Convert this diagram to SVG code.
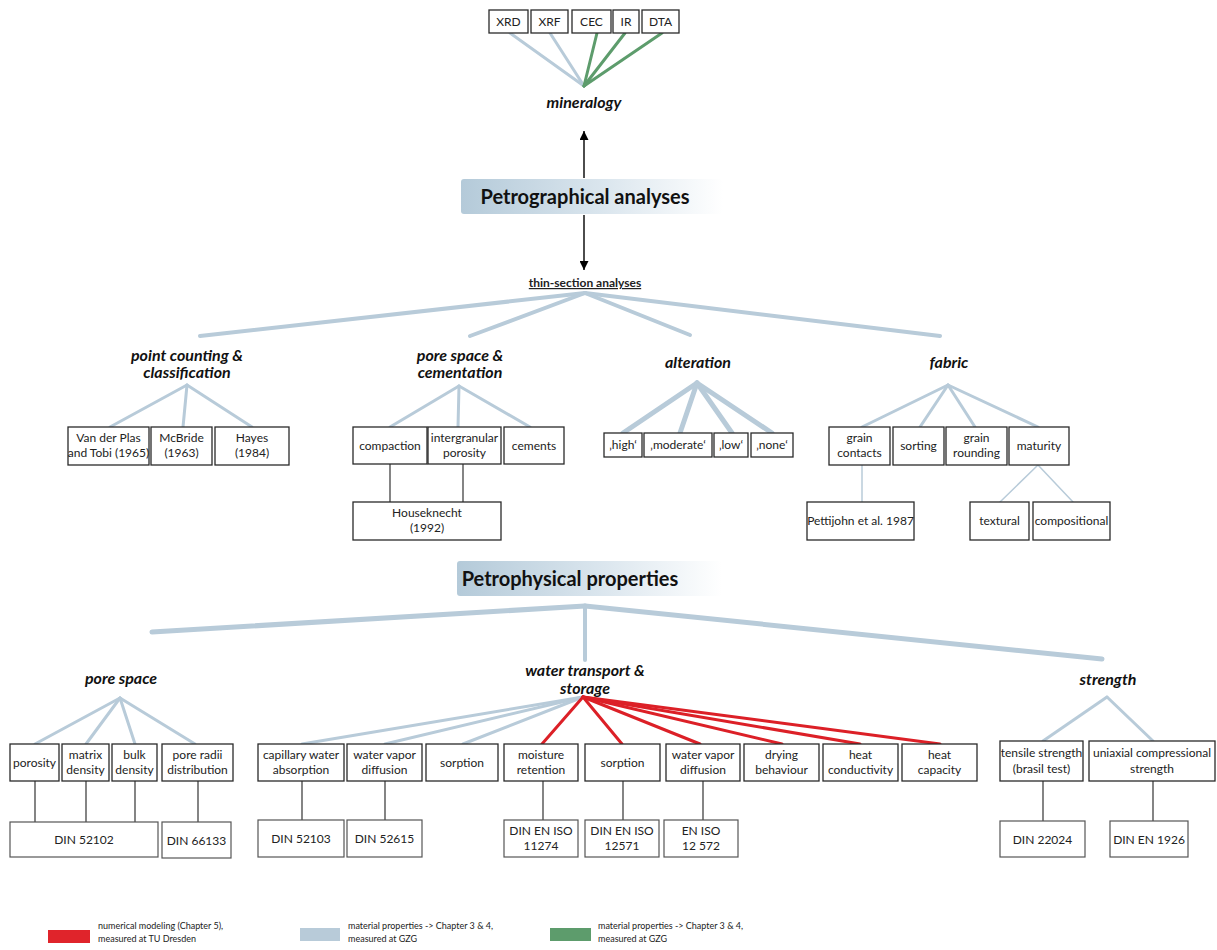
<svg xmlns="http://www.w3.org/2000/svg" width="1217" height="950" viewBox="0 0 1217 950">
<defs>
<linearGradient id="hdr" x1="0" y1="0" x2="1" y2="0">
<stop offset="0" stop-color="#b4cad9"/>
<stop offset="0.55" stop-color="#dbe6ee"/>
<stop offset="1" stop-color="#ffffff"/>
</linearGradient>
<marker id="ah" viewBox="0 0 10 10" refX="10" refY="5" markerWidth="9" markerHeight="9" markerUnits="userSpaceOnUse" orient="auto">
<path d="M0,0 L10,5 L0,10 z" fill="#000"/>
</marker>
<style>
.box{fill:#fff;stroke:#2a2a2a;stroke-width:1.3}
.din{fill:#fff;stroke:#555;stroke-width:1.2}
.t{font-family:Lato,"Open Sans",sans-serif;font-size:12px;fill:#222;text-anchor:middle}
.h{font-family:Lato,"Open Sans",sans-serif;font-size:16px;font-weight:bold;font-style:italic;fill:#111;text-anchor:middle}
.big{font-family:Lato,"Open Sans",sans-serif;font-size:20px;font-weight:bold;fill:#111;text-anchor:middle}
.lg{font-family:Lato,"Open Sans",sans-serif;font-size:9px;fill:#222}
.b{stroke:#b8cbd9;fill:none;stroke-linecap:round}
.r{stroke:#dc2027;fill:none;stroke-width:3;stroke-linecap:round}
.g{stroke:#5d9c6c;fill:none;stroke-width:3;stroke-linecap:round}
.k{stroke:#333;stroke-width:1.2;fill:none}
</style>
</defs>
<rect width="1217" height="950" fill="#fff"/>

<g id="connectors">
<!-- mineralogy -->
<line class="b" stroke-width="3" x1="510" y1="33" x2="584" y2="86"/>
<line class="b" stroke-width="3" x1="550" y1="33" x2="584" y2="86"/>
<line class="g" x1="597" y1="33" x2="584" y2="86"/>
<line class="g" x1="625" y1="33" x2="584" y2="86"/>
<line class="g" x1="662" y1="33" x2="584" y2="86"/>
<!-- arrows -->
<line x1="584" y1="178" x2="584" y2="131" stroke="#000" stroke-width="1.4" marker-end="url(#ah)"/>
<line x1="584" y1="215" x2="584" y2="270" stroke="#000" stroke-width="1.4" marker-end="url(#ah)"/>
<!-- thin-section -->
<line class="b" stroke-width="4" x1="585" y1="293" x2="200" y2="336"/>
<line class="b" stroke-width="4" x1="585" y1="293" x2="470" y2="336"/>
<line class="b" stroke-width="4" x1="585" y1="293" x2="690" y2="335"/>
<line class="b" stroke-width="4" x1="585" y1="293" x2="940" y2="336"/>
<!-- point counting -->
<line class="b" stroke-width="3" x1="187" y1="385" x2="110" y2="427"/>
<line class="b" stroke-width="3" x1="187" y1="385" x2="183" y2="427"/>
<line class="b" stroke-width="3" x1="187" y1="385" x2="252" y2="427"/>
<!-- pore space & cementation -->
<line class="b" stroke-width="3" x1="459" y1="386" x2="390" y2="427"/>
<line class="b" stroke-width="3" x1="459" y1="386" x2="458" y2="427"/>
<line class="b" stroke-width="3" x1="459" y1="386" x2="530" y2="427"/>
<line class="k" x1="390" y1="464" x2="390" y2="502"/>
<line class="k" x1="463" y1="464" x2="463" y2="502"/>
<!-- alteration -->
<line class="b" stroke-width="5" x1="697" y1="383" x2="623" y2="433"/>
<line class="b" stroke-width="5" x1="697" y1="383" x2="680" y2="433"/>
<line class="b" stroke-width="5" x1="697" y1="383" x2="732" y2="433"/>
<line class="b" stroke-width="5" x1="697" y1="383" x2="772" y2="433"/>
<!-- fabric -->
<line class="b" stroke-width="3" x1="948" y1="385" x2="862" y2="427"/>
<line class="b" stroke-width="3" x1="948" y1="385" x2="920" y2="427"/>
<line class="b" stroke-width="3" x1="948" y1="385" x2="975" y2="427"/>
<line class="b" stroke-width="3" x1="948" y1="385" x2="1038" y2="427"/>
<line class="b" stroke-width="1.5" x1="862" y1="465" x2="862" y2="502"/>
<line class="b" stroke-width="1.5" x1="1038" y1="465" x2="1000" y2="502"/>
<line class="b" stroke-width="1.5" x1="1038" y1="465" x2="1073" y2="502"/>
<!-- petrophysical -->
<line class="b" stroke-width="5" x1="585" y1="606" x2="152" y2="632"/>
<line class="b" stroke-width="5" x1="585" y1="606" x2="1102" y2="659"/>
<line class="b" stroke-width="4" x1="585" y1="606" x2="585" y2="660"/>
<!-- pore space -->
<line class="b" stroke-width="3" x1="120" y1="698" x2="35" y2="744"/>
<line class="b" stroke-width="3" x1="120" y1="698" x2="86" y2="744"/>
<line class="b" stroke-width="3" x1="120" y1="698" x2="135" y2="744"/>
<line class="b" stroke-width="3" x1="120" y1="698" x2="195" y2="744"/>
<line class="k" x1="35" y1="781" x2="35" y2="822"/>
<line class="k" x1="86" y1="781" x2="86" y2="822"/>
<line class="k" x1="135" y1="781" x2="135" y2="822"/>
<line class="k" x1="198" y1="781" x2="198" y2="822"/>
<!-- water transport -->
<line class="b" stroke-width="3" x1="583" y1="697" x2="302" y2="744"/>
<line class="b" stroke-width="3" x1="583" y1="697" x2="385" y2="744"/>
<line class="b" stroke-width="3" x1="583" y1="697" x2="463" y2="744"/>
<line class="r" x1="583" y1="697" x2="542" y2="744"/>
<line class="r" x1="583" y1="697" x2="622" y2="744"/>
<line class="r" x1="583" y1="697" x2="700" y2="744"/>
<line class="r" x1="583" y1="697" x2="782" y2="744"/>
<line class="r" x1="583" y1="697" x2="860" y2="744"/>
<line class="r" x1="583" y1="697" x2="940" y2="744"/>
<line class="k" x1="302" y1="781" x2="302" y2="820"/>
<line class="k" x1="385" y1="781" x2="385" y2="820"/>
<line class="k" x1="543" y1="781" x2="543" y2="820"/>
<line class="k" x1="623" y1="781" x2="623" y2="820"/>
<line class="k" x1="703" y1="781" x2="703" y2="820"/>
<!-- strength -->
<line class="b" stroke-width="3" x1="1107" y1="697" x2="1043" y2="741"/>
<line class="b" stroke-width="3" x1="1107" y1="697" x2="1153" y2="741"/>
<line class="k" x1="1043" y1="781" x2="1043" y2="821"/>
<line class="k" x1="1153" y1="781" x2="1153" y2="821"/>
</g>

<!-- mineralogy methods -->
<g id="XRD"><rect class="box" x="489" y="10" width="39" height="23"/><text class="t" x="508.5" y="26">XRD</text></g>
<g id="XRF"><rect class="box" x="531" y="10" width="37" height="23"/><text class="t" x="549.5" y="26">XRF</text></g>
<g id="CEC"><rect class="box" x="572" y="10" width="39" height="23"/><text class="t" x="591.5" y="26">CEC</text></g>
<g id="IR"><rect class="box" x="613" y="10" width="26" height="23"/><text class="t" x="626" y="26">IR</text></g>
<g id="DTA"><rect class="box" x="642" y="10" width="37" height="23"/><text class="t" x="660.5" y="26">DTA</text></g>
<g id="mineralogy"><text class="h" x="584" y="108">mineralogy</text></g>

<g id="petrographical">
<rect x="461" y="179" width="262" height="35" rx="3" fill="url(#hdr)"/>
<text class="big" x="585" y="204">Petrographical analyses</text>
</g>
<g id="thin-section"><text class="t" x="585" y="287" font-weight="bold" font-size="13" text-decoration="underline">thin-section analyses</text></g>

<g id="point-counting"><text class="h" x="187" y="361">point counting &amp;</text><text class="h" x="187" y="378">classification</text></g>
<g id="vanderplas"><rect class="box" x="68" y="427" width="81" height="38"/><text class="t" x="108.5" y="442">Van der Plas</text><text class="t" x="108.5" y="457">and Tobi (1965)</text></g>
<g id="mcbride"><rect class="box" x="151" y="427" width="61" height="38"/><text class="t" x="181.5" y="442">McBride</text><text class="t" x="181.5" y="457">(1963)</text></g>
<g id="hayes"><rect class="box" x="215" y="427" width="74" height="38"/><text class="t" x="252" y="442">Hayes</text><text class="t" x="252" y="457">(1984)</text></g>

<g id="pore-cementation"><text class="h" x="460" y="361">pore space &amp;</text><text class="h" x="460" y="378">cementation</text></g>
<g id="compaction"><rect class="box" x="353" y="427" width="74" height="37"/><text class="t" x="390" y="450">compaction</text></g>
<g id="intergranular"><rect class="box" x="428" y="427" width="73" height="37"/><text class="t" x="464.5" y="442">intergranular</text><text class="t" x="464.5" y="457">porosity</text></g>
<g id="cements"><rect class="box" x="504" y="427" width="60" height="37"/><text class="t" x="534" y="450">cements</text></g>
<g id="houseknecht"><rect class="box" x="353" y="502" width="148" height="38"/><text class="t" x="427" y="517">Houseknecht</text><text class="t" x="427" y="532">(1992)</text></g>

<g id="alteration"><text class="h" x="698" y="368">alteration</text></g>
<g id="high"><rect class="box" x="604" y="433" width="38" height="24"/><text class="t" x="623" y="449">‚high‘</text></g>
<g id="moderate"><rect class="box" x="644" y="433" width="68" height="24"/><text class="t" x="678" y="449">‚moderate‘</text></g>
<g id="low"><rect class="box" x="714" y="433" width="34" height="24"/><text class="t" x="731" y="449">‚low‘</text></g>
<g id="none"><rect class="box" x="751" y="433" width="42" height="24"/><text class="t" x="772" y="449">‚none‘</text></g>

<g id="fabric"><text class="h" x="949" y="368">fabric</text></g>
<g id="graincontacts"><rect class="box" x="829" y="427" width="61" height="38"/><text class="t" x="859.5" y="442">grain</text><text class="t" x="859.5" y="457">contacts</text></g>
<g id="sorting"><rect class="box" x="893" y="427" width="51" height="38"/><text class="t" x="918.5" y="450">sorting</text></g>
<g id="grainrounding"><rect class="box" x="946" y="427" width="61" height="38"/><text class="t" x="976.5" y="442">grain</text><text class="t" x="976.5" y="457">rounding</text></g>
<g id="maturity"><rect class="box" x="1009" y="427" width="60" height="38"/><text class="t" x="1039" y="450">maturity</text></g>
<g id="pettijohn"><rect class="box" x="807" y="502" width="107" height="38"/><text class="t" x="860.5" y="525">Pettijohn et al. 1987</text></g>
<g id="textural"><rect class="box" x="970" y="502" width="59" height="38"/><text class="t" x="999.5" y="525">textural</text></g>
<g id="compositional"><rect class="box" x="1033" y="502" width="77" height="38"/><text class="t" x="1071.5" y="525">compositional</text></g>

<g id="petrophysical">
<rect x="457" y="561" width="265" height="35" rx="3" fill="url(#hdr)"/>
<text class="big" x="570" y="586">Petrophysical properties</text>
</g>

<g id="porespace"><text class="h" x="121" y="684">pore space</text></g>
<g id="porosity"><rect class="box" x="10" y="744" width="49" height="37"/><text class="t" x="34.5" y="767">porosity</text></g>
<g id="matrixdensity"><rect class="box" x="62" y="744" width="47" height="37"/><text class="t" x="85.5" y="759">matrix</text><text class="t" x="85.5" y="774">density</text></g>
<g id="bulkdensity"><rect class="box" x="112" y="744" width="45" height="37"/><text class="t" x="134.5" y="759">bulk</text><text class="t" x="134.5" y="774">density</text></g>
<g id="poreradii"><rect class="box" x="162" y="744" width="71" height="37"/><text class="t" x="197.5" y="759">pore radii</text><text class="t" x="197.5" y="774">distribution</text></g>
<g id="din52102"><rect class="din" x="10" y="822" width="148" height="35"/><text class="t" x="84" y="844">DIN 52102</text></g>
<g id="din66133"><rect class="din" x="162" y="822" width="69" height="36"/><text class="t" x="196.5" y="845">DIN 66133</text></g>

<g id="watertransport"><text class="h" x="585" y="676">water transport &amp;</text><text class="h" x="585" y="694">storage</text></g>
<g id="capillary"><rect class="box" x="258" y="744" width="86" height="37"/><text class="t" x="301" y="759">capillary water</text><text class="t" x="301" y="774">absorption</text></g>
<g id="vapor1"><rect class="box" x="347" y="744" width="75" height="37"/><text class="t" x="384.5" y="759">water vapor</text><text class="t" x="384.5" y="774">diffusion</text></g>
<g id="sorption1"><rect class="box" x="426" y="744" width="72" height="37"/><text class="t" x="462" y="767">sorption</text></g>
<g id="moisture"><rect class="box" x="504" y="744" width="74" height="37"/><text class="t" x="541" y="759">moisture</text><text class="t" x="541" y="774">retention</text></g>
<g id="sorption2"><rect class="box" x="585" y="744" width="75" height="37"/><text class="t" x="622.5" y="767">sorption</text></g>
<g id="vapor2"><rect class="box" x="666" y="744" width="74" height="37"/><text class="t" x="703" y="759">water vapor</text><text class="t" x="703" y="774">diffusion</text></g>
<g id="drying"><rect class="box" x="744" y="744" width="75" height="37"/><text class="t" x="781.5" y="759">drying</text><text class="t" x="781.5" y="774">behaviour</text></g>
<g id="heatcond"><rect class="box" x="823" y="744" width="75" height="37"/><text class="t" x="860.5" y="759">heat</text><text class="t" x="860.5" y="774">conductivity</text></g>
<g id="heatcap"><rect class="box" x="902" y="744" width="75" height="37"/><text class="t" x="939.5" y="759">heat</text><text class="t" x="939.5" y="774">capacity</text></g>
<g id="din52103"><rect class="din" x="258" y="820" width="86" height="37"/><text class="t" x="301" y="843">DIN 52103</text></g>
<g id="din52615"><rect class="din" x="347" y="820" width="75" height="37"/><text class="t" x="384.5" y="843">DIN 52615</text></g>
<g id="din11274"><rect class="din" x="504" y="820" width="74" height="37"/><text class="t" x="541" y="835">DIN EN ISO</text><text class="t" x="541" y="850">11274</text></g>
<g id="din12571"><rect class="din" x="585" y="820" width="74" height="37"/><text class="t" x="622" y="835">DIN EN ISO</text><text class="t" x="622" y="850">12571</text></g>
<g id="en12572"><rect class="din" x="664" y="820" width="74" height="37"/><text class="t" x="701" y="835">EN ISO</text><text class="t" x="701" y="850">12 572</text></g>

<g id="strength"><text class="h" x="1108" y="685">strength</text></g>
<g id="tensile"><rect class="box" x="1000" y="741" width="83" height="40"/><text class="t" x="1041.5" y="757">tensile strength</text><text class="t" x="1041.5" y="773">(brasil test)</text></g>
<g id="uniaxial"><rect class="box" x="1089" y="741" width="126" height="40"/><text class="t" x="1152" y="757">uniaxial compressional</text><text class="t" x="1152" y="773">strength</text></g>
<g id="din22024"><rect class="din" x="1000" y="821" width="85" height="36"/><text class="t" x="1042.5" y="844">DIN 22024</text></g>
<g id="din1926"><rect class="din" x="1110" y="821" width="78" height="36"/><text class="t" x="1149" y="844">DIN EN 1926</text></g>

<g id="legend">
<rect x="48" y="930" width="42" height="13" fill="#e0242b"/>
<text class="lg" x="98" y="929">numerical modeling (Chapter 5),</text>
<text class="lg" x="98" y="942">measured at TU Dresden</text>
<rect x="300" y="928" width="40" height="13" fill="#b8cbd9"/>
<text class="lg" x="348" y="929">material properties -&gt; Chapter 3 &amp; 4,</text>
<text class="lg" x="348" y="942">measured at GZG</text>
<rect x="550" y="928" width="41" height="13" fill="#5d9c6c"/>
<text class="lg" x="598" y="929">material properties -&gt; Chapter 3 &amp; 4,</text>
<text class="lg" x="598" y="942">measured at GZG</text>
</g>
</svg>
